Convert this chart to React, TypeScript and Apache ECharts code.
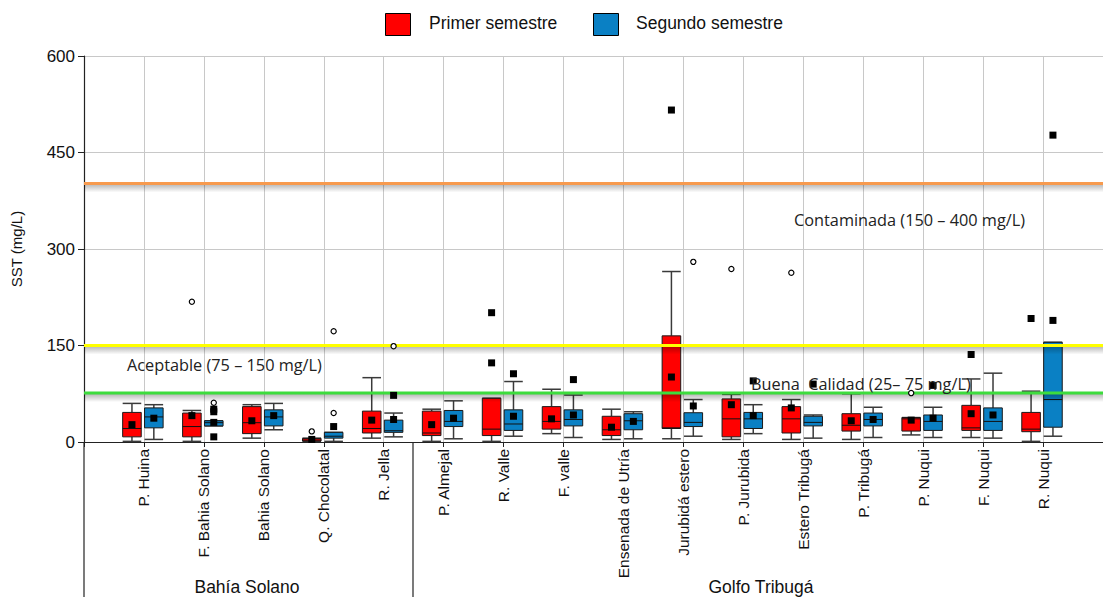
import React, { useEffect, useRef } from "react";
import * as echarts from "echarts";

const categories = [
  "P. Huina", "F. Bahia Solano", "Bahia Solano", "Q. Chocolatal", "R. Jella",
  "P. Almejal", "R. Valle", "F. valle", "Ensenada de Utría", "Jurubidá estero",
  "P. Jurubida", "Estero Tribugá", "P. Tribugá", "P. Nuqui", "F. Nuqui", "R. Nuqui",
];

// [min, q1, median, q3, max]
const primerBox = [
  [1, 8, 21, 46, 60],
  [1, 8, 24, 45, 49],
  [6, 13, 30, 55, 58],
  [1, 1.5, 3, 5.5, 6],
  [6, 14, 21, 48, 100],
  [1, 10, 14, 48, 51],
  [1, 10, 20, 68, 68],
  [13, 20, 32, 55, 82],
  [4, 10, 19, 40, 51],
  [5, 21, 22, 165, 265],
  [4, 8, 36, 67, 74],
  [4, 14, 36, 55, 66],
  [4, 17, 26, 44, 75],
  [11, 17, 36, 38, 38],
  [7, 18, 22, 57, 98],
  [1, 16, 20, 46, 79],
];
const segundoBox = [
  [4, 22, 39, 53, 58],
  [25, 25, 30, 33, 33],
  [19, 25, 39, 50, 60],
  [1, 6, 9, 15, 15],
  [8, 15, 17.5, 34, 45],
  [5, 24, 32, 49, 64],
  [9, 18, 28, 50, 94],
  [7, 25, 35, 50, 73],
  [5, 19, 33, 44, 47],
  [9, 24, 30.5, 45.5, 66],
  [13, 21, 36, 46, 58],
  [6, 25, 30.5, 40, 42],
  [7, 25, 35, 45, 54],
  [7, 18, 32, 42, 54],
  [6, 18, 32, 53, 107],
  [9, 23, 66, 155, 155],
];

const primerMean = [27, 41, 33, 4, 34, 27, null, 36, 23, 101, 58, 53, 33, 34, 44, null];
const segundoMean = [37, 30.5, 41, 24, 35, 37, 40, 42, 32, 56, 41, null, 35, 37, 42, null];

// [category number (1-based), value]
const primerFilled = [[7, 123], [7, 201], [10, 516], [15, 136], [16, 192]];
const primerOpen = [[2, 218], [4, 16.5], [11, 269], [12, 263], [14, 76]];
const segundoFilled = [[2, 51], [2, 47], [2, 8], [5, 72.5], [7, 106], [8, 97], [11, 95], [12, 90], [14, 88], [16, 189], [16, 477]];
const segundoOpen = [[2, 61], [4, 45], [4, 172], [5, 149], [10, 280]];

const limitValues = [402, 150, 76];
const limitColors = ["#f79a4e", "#ffff00", "#3ddc3d"];

const RED = "#ff0000";
const BLUE = "#0a80c4";
const AXIS_FONT = "'Liberation Sans', Arial, sans-serif";
const NOTE_FONT = "'Open Sans', sans-serif";

function sideOffset(side: number, bw: number) {
  return side === 0 ? -0.2 * bw : 0.165 * bw;
}

function makeBoxRender(side: number, color: string) {
  return (params: any, api: any) => {
    const idx = api.value(0);
    const bw = api.size([1, 0])[0];
    const w = 0.31 * bw;
    const base = api.coord([idx, api.value(1)]);
    const cx = base[0] + sideOffset(side, bw);
    const yMin = base[1];
    const yQ1 = api.coord([idx, api.value(2)])[1];
    const yMed = api.coord([idx, api.value(3)])[1];
    const yQ3 = api.coord([idx, api.value(4)])[1];
    const yMax = api.coord([idx, api.value(5)])[1];
    const ws = { stroke: "#3a3a3a", lineWidth: 1.5 };
    return {
      type: "group",
      children: [
        { type: "line", shape: { x1: cx, y1: yMax, x2: cx, y2: yQ3 }, style: ws },
        { type: "line", shape: { x1: cx, y1: yQ1, x2: cx, y2: yMin }, style: ws },
        { type: "line", shape: { x1: cx - w / 2, y1: yMax, x2: cx + w / 2, y2: yMax }, style: ws },
        { type: "line", shape: { x1: cx - w / 2, y1: yMin, x2: cx + w / 2, y2: yMin }, style: ws },
        {
          type: "rect",
          shape: { x: cx - w / 2, y: yQ3, width: w, height: Math.max(yQ1 - yQ3, 1) },
          style: { fill: color, stroke: "#1a1a1a", lineWidth: 1 },
        },
        { type: "line", shape: { x1: cx - w / 2, y1: yMed, x2: cx + w / 2, y2: yMed }, style: { stroke: "#111", lineWidth: 1 } },
      ],
    };
  };
}

function pointRender(params: any, api: any) {
  const idx = api.value(0);
  const bw = api.size([1, 0])[0];
  const p = api.coord([idx, api.value(1)]);
  const cx = p[0] + sideOffset(api.value(2), bw);
  const shape = api.value(3);
  if (shape === 0) {
    return { type: "rect", shape: { x: cx - 3.5, y: p[1] - 3.5, width: 7, height: 7 }, style: { fill: "#000" } };
  }
  return { type: "circle", shape: { cx, cy: p[1], r: 2.6 }, style: { fill: "#fff", stroke: "#000", lineWidth: 1.2 } };
}

// threshold lines with a soft shadow beneath, positioned with the y axis scale
function limitRender(params: any, api: any) {
  const p = api.coord([0, api.value(1)]);
  const x0 = params.coordSys.x;
  const w = params.coordSys.width;
  const color = limitColors[api.value(2)];
  return {
    type: "group",
    children: [
      {
        type: "rect",
        shape: { x: x0, y: p[1] + 1, width: w, height: 8 },
        style: {
          fill: {
            type: "linear", x: 0, y: 0, x2: 0, y2: 1,
            colorStops: [
              { offset: 0, color: "rgba(0,0,0,0.28)" },
              { offset: 1, color: "rgba(0,0,0,0)" },
            ],
          },
        },
      },
      { type: "line", shape: { x1: x0, y1: p[1], x2: x0 + w, y2: p[1] }, style: { stroke: color, lineWidth: 3 } },
    ],
  };
}

export default function App() {
  const ref = useRef<HTMLDivElement>(null);
  useEffect(() => {
    if (!ref.current) return;
    const chart = echarts.init(ref.current, undefined, { renderer: "svg" });

    const xData = ["", ...categories, ""];
    const primerData = primerBox.map((b, i) => [i + 1, ...b]);
    const segundoData = segundoBox.map((b, i) => [i + 1, ...b]);
    const points: number[][] = [];
    primerMean.forEach((m, i) => { if (m !== null) points.push([i + 1, m, 0, 0]); });
    segundoMean.forEach((m, i) => { if (m !== null) points.push([i + 1, m, 1, 0]); });
    primerFilled.forEach(([c, v]) => points.push([c, v, 0, 0]));
    segundoFilled.forEach(([c, v]) => points.push([c, v, 1, 0]));
    primerOpen.forEach(([c, v]) => points.push([c, v, 0, 1]));
    segundoOpen.forEach(([c, v]) => points.push([c, v, 1, 1]));
    const limitData = limitValues.map((v, i) => [0, v, i]);

    const gridColor = "#c8c8c8";

    chart.setOption({
      animation: false,
      backgroundColor: "#ffffff",
      grid: { left: 84, top: 56, width: 1028, height: 386, containLabel: false },
      xAxis: {
        type: "category",
        data: xData,
        boundaryGap: false,
        axisLine: { lineStyle: { color: "#222", width: 1.2 } },
        axisTick: { show: true, interval: 0, length: 5, lineStyle: { color: "#222" } },
        axisLabel: {
          interval: 0,
          rotate: 90,
          margin: 7,
          fontFamily: AXIS_FONT,
          fontSize: 15.5,
          color: "#111",
        },
        splitLine: { show: true, interval: 0, lineStyle: { color: gridColor, width: 1 } },
      },
      yAxis: {
        type: "value",
        min: 0,
        max: 600,
        interval: 150,
        name: "SST (mg/L)",
        nameLocation: "middle",
        nameRotate: 90,
        nameGap: 60,
        nameTextStyle: { fontFamily: AXIS_FONT, fontSize: 15, color: "#111" },
        axisLine: { show: true, lineStyle: { color: "#222", width: 1.2 } },
        axisTick: { show: true, length: 6, lineStyle: { color: "#222" } },
        axisLabel: { margin: 9, fontFamily: AXIS_FONT, fontSize: 17, color: "#111" },
        splitLine: { show: true, lineStyle: { color: gridColor, width: 1 } },
      },
      series: [
        {
          name: "Primer semestre",
          type: "custom",
          renderItem: makeBoxRender(0, RED),
          data: primerData,
          encode: { x: 0, y: [1, 2, 3, 4, 5] },
          itemStyle: { color: RED },
          z: 3,
        },
        {
          name: "Segundo semestre",
          type: "custom",
          renderItem: makeBoxRender(1, BLUE),
          data: segundoData,
          encode: { x: 0, y: [1, 2, 3, 4, 5] },
          itemStyle: { color: BLUE },
          z: 3,
        },
        {
          name: "limits",
          type: "custom",
          renderItem: limitRender,
          data: limitData,
          encode: { x: 0, y: 1 },
          silent: true,
          clip: false,
          z: 5,
        },
        {
          name: "points",
          type: "custom",
          renderItem: pointRender,
          data: points,
          encode: { x: 0, y: 1 },
          z: 6,
        },
      ],
      graphic: [
        { type: "rect", left: 385, top: 13, shape: { width: 25, height: 22 }, style: { fill: RED, stroke: "#000", lineWidth: 1 } },
        { type: "text", left: 429, top: 14, style: { text: "Primer semestre", fontFamily: AXIS_FONT, fontSize: 17.5, fill: "#111" } },
        { type: "rect", left: 593, top: 13, shape: { width: 25, height: 22 }, style: { fill: BLUE, stroke: "#000", lineWidth: 1 } },
        { type: "text", left: 636, top: 14, style: { text: "Segundo semestre", fontFamily: AXIS_FONT, fontSize: 17.5, fill: "#111" } },
        { type: "line", shape: { x1: 84, y1: 442, x2: 84, y2: 597 }, style: { stroke: "#222", lineWidth: 1.2 } },
        { type: "line", shape: { x1: 413, y1: 442, x2: 413, y2: 597 }, style: { stroke: "#222", lineWidth: 1.2 } },
        { type: "text", x: 247, y: 587, style: { text: "Bahía Solano", fontFamily: AXIS_FONT, fontSize: 17.5, fill: "#111", align: "center", verticalAlign: "middle" } },
        { type: "text", x: 761, y: 587, style: { text: "Golfo Tribugá", fontFamily: AXIS_FONT, fontSize: 17.5, fill: "#111", align: "center", verticalAlign: "middle" } },
        { type: "text", x: 127, y: 365, z: 10, style: { text: "Aceptable (75 – 150 mg/L)", fontFamily: NOTE_FONT, fontSize: 16.3, fill: "#222", verticalAlign: "middle" } },
        { type: "text", x: 794, y: 220, z: 10, style: { text: "Contaminada (150 – 400 mg/L)", fontFamily: NOTE_FONT, fontSize: 16.3, fill: "#222", verticalAlign: "middle" } },
        { type: "text", x: 751, y: 384, z: 10, style: { text: "Buena  Calidad (25– 75 mg/L)", fontFamily: NOTE_FONT, fontSize: 16.3, fill: "#222", verticalAlign: "middle" } },
      ],
    });
    return () => chart.dispose();
  }, []);
  return (
    <div
      ref={ref}
      style={{ position: "absolute", left: 0, top: 0, width: 1103, height: 597, background: "#fff" }}
    />
  );
}
